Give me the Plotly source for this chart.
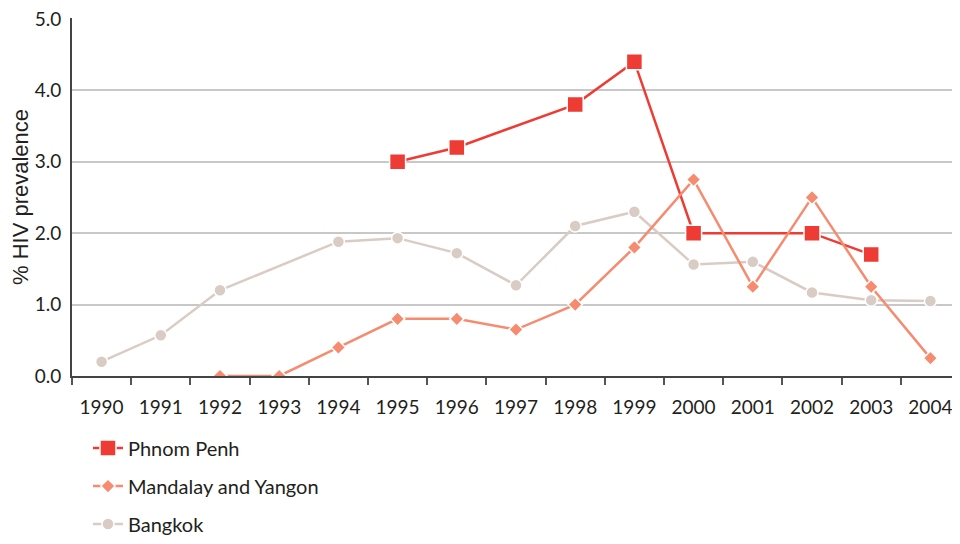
import plotly.graph_objects as go

years = [str(y) for y in range(1990, 2005)]

phnom_penh = [None, None, None, None, None, 3.0, 3.2, None, 3.8, 4.4, 2.0, None, 2.0, 1.7, None]
mandalay_yangon = [None, None, 0.0, 0.0, 0.4, 0.8, 0.8, 0.65, 1.0, 1.8, 2.75, 1.25, 2.5, 1.25, 0.25]
bangkok = [0.2, 0.57, 1.2, None, 1.88, 1.93, 1.72, 1.27, 2.1, 2.3, 1.56, 1.6, 1.17, 1.06, 1.05]

y_ticks = [0, 1, 2, 3, 4, 5]
y_labels = ["0.0", "1.0", "2.0", "3.0", "4.0", "5.0"]

c_pp = "#EE3B33"
c_my = "#F68B6F"
c_bk = "#D9CCC4"

fig = go.Figure()
fig.add_trace(go.Scatter(
    x=years, y=bangkok, name="Bangkok", mode="lines+markers", connectgaps=True,
    line=dict(color=c_bk, width=2.5),
    marker=dict(symbol="circle", size=12, color=c_bk, line=dict(color="white", width=1.5)),
    legendrank=3, legendgroup="c"))
fig.add_trace(go.Scatter(
    x=years, y=phnom_penh, name="Phnom Penh", mode="lines+markers", connectgaps=True,
    line=dict(color=c_pp, width=2.5),
    marker=dict(symbol="square", size=16, color=c_pp, line=dict(color="white", width=1.5)),
    legendrank=1, legendgroup="a"))
fig.add_trace(go.Scatter(
    x=years, y=mandalay_yangon, name="Mandalay and Yangon", mode="lines+markers", connectgaps=True,
    line=dict(color=c_my, width=2.5),
    marker=dict(symbol="diamond", size=11, color=c_my, line=dict(color="white", width=1.5)),
    legendrank=2, legendgroup="b"))

font_family = "Lato, 'Noto Sans', sans-serif"

fig.update_layout(
    width=952, height=536,
    margin=dict(l=64, r=0, t=10, b=168),
    paper_bgcolor="white", plot_bgcolor="white",
    font=dict(family=font_family, size=19, color="#231F20"),
    showlegend=True,
    legend=dict(
        x=0.018, xanchor="left", y=-0.468, yanchor="bottom",
        font=dict(size=20, color="#231F20"),
        traceorder="grouped", tracegroupgap=9,
        bgcolor="rgba(0,0,0,0)",
    ),
    xaxis=dict(
        type="category", categoryorder="array", categoryarray=years,
        range=[-0.5, 14.5], tickson="boundaries", automargin=False,
        ticks="outside", ticklen=7, tickwidth=1.5, tickcolor="#555555",
        showline=True, linecolor="#444444", linewidth=2,
        showgrid=False, zeroline=False,
        tickfont=dict(size=19), ticklabelstandoff=13,
    ),
    yaxis=dict(
        range=[0, 5.012], tickvals=y_ticks, ticktext=y_labels, automargin=False,
        ticklabeloverflow="allow",
        showgrid=True, gridcolor="#C8C8C8", gridwidth=1.5,
        showline=True, linecolor="#444444", linewidth=2,
        ticks="", zeroline=False, ticklabelstandoff=5,
        title=dict(text="% HIV prevalence",
                   font=dict(size=22, family="'Liberation Sans', Arial, sans-serif"),
                   standoff=12),
        tickfont=dict(size=19),
    ),
)

fig.write_html("out.html")
